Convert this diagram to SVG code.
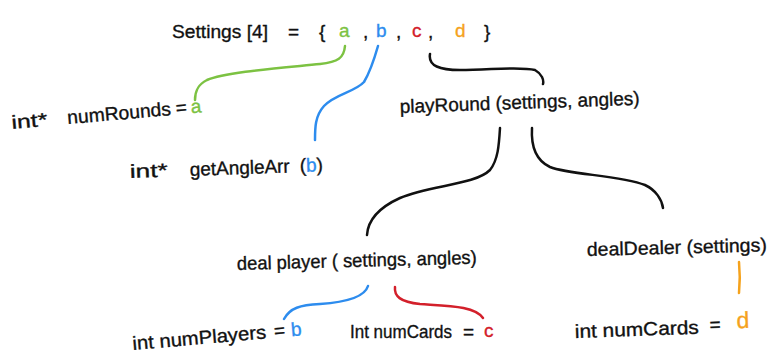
<svg xmlns="http://www.w3.org/2000/svg" width="769" height="360" viewBox="0 0 769 360">
<style>
text{font-family:"Liberation Sans","DejaVu Sans",sans-serif;font-size:19px;fill:#111;stroke:#111;stroke-width:0.35}
.g{fill:#7cc242;stroke:#7cc242}.b{fill:#2d8cee;stroke:#2d8cee}.r{fill:#d3202b;stroke:#d3202b}.o{fill:#f5a21c;stroke:#f5a21c}
path{fill:none;stroke-width:2.5;stroke-linecap:round;stroke-linejoin:round}
.k{stroke:#111}.gs{stroke:#7cc242}.bs{stroke:#2d8cee}.rs{stroke:#d3202b}.os{stroke:#f5a21c}
</style>
<rect width="769" height="360" fill="#fff"/>
<g id="connectors">
<path class="gs" d="M345,46 C344,58 338,62 320,64 C280,68 225,72 207,80 C197,85 195,92 195,100"/>
<path class="bs" d="M378,46 C374,60 370,72 364,82 C355,92 335,94 324,106 C315,116 315,128 315,140"/>
<path class="k" d="M430,54 C428,66 440,70 460,70 C490,70 520,66 535,70 C542,74 544,80 543,84"/>
<path class="k" d="M500,128 C499,145 498,160 490,170 C475,185 430,185 400,198 C378,208 368,220 367,235"/>
<path class="k" d="M532,128 C531,145 535,160 550,167 C570,175 620,175 645,185 C656,190 662,200 663,208"/>
<path class="bs" d="M368,286 C365,296 350,302 320,304 C300,305 290,308 284,319"/>
<path class="rs" d="M395,287 C394,296 400,302 420,304 C450,306 475,306 483,318"/>
<path class="os" d="M739,262 C740,272 740,283 739,293"/>
</g>
<g id="settings">
<text x="172" y="38" textLength="96" lengthAdjust="spacingAndGlyphs">Settings [4]</text>
<text x="288" y="38">=</text>
<text x="319" y="38">{</text>
<text x="339" y="37" class="g">a</text>
<text x="363" y="38">,</text>
<text x="376" y="37" class="b">b</text>
<text x="396" y="38">,</text>
<text x="412" y="37" class="r">c</text>
<text x="428" y="38">,</text>
<text x="455" y="37" class="o">d</text>
<text x="484" y="38">}</text>
</g>
<g id="numRounds" transform="rotate(-5 12 129)">
<text x="12" y="129" textLength="36" lengthAdjust="spacingAndGlyphs">int*</text>
<text x="68" y="129" textLength="104" lengthAdjust="spacingAndGlyphs">numRounds</text>
<text x="177" y="129">=</text>
<text x="192" y="129" class="g">a</text>
</g>
<g id="getAngleArr" transform="rotate(-2 130 178)">
<text x="130" y="178" textLength="38" lengthAdjust="spacingAndGlyphs">int*</text>
<text x="190" y="178" textLength="100" lengthAdjust="spacingAndGlyphs">getAngleArr</text>
<text x="300" y="178">(<tspan class="b">b</tspan>)</text>
</g>
<g id="playRound" transform="rotate(-2 400 113)">
<text x="400" y="113" textLength="240" lengthAdjust="spacingAndGlyphs">playRound (settings,  angles)</text>
</g>
<g id="dealPlayer" transform="rotate(-1.5 237 270)">
<text x="237" y="270" textLength="240" lengthAdjust="spacingAndGlyphs">deal player ( settings, angles)</text>
</g>
<g id="dealDealer" transform="rotate(-1.5 587 256)">
<text x="587" y="256" textLength="180" lengthAdjust="spacingAndGlyphs">dealDealer (settings)</text>
</g>
<g id="numPlayers" transform="rotate(-5 133 350)">
<text x="133" y="350" textLength="134" lengthAdjust="spacingAndGlyphs">int numPlayers</text>
<text x="275" y="350">=</text>
<text x="292" y="350" class="b">b</text>
</g>
<g id="numCardsC">
<text x="350" y="338" textLength="102" lengthAdjust="spacingAndGlyphs">Int numCards</text>
<text x="463" y="338">=</text>
<text x="484" y="337" class="r">c</text>
</g>
<g id="numCardsD" transform="rotate(-2 575 338)">
<text x="575" y="338" textLength="124" lengthAdjust="spacingAndGlyphs">int numCards</text>
<text x="710" y="336">=</text>
<text x="737" y="334" class="o" style="font-size:23px">d</text>
</g>
</svg>
